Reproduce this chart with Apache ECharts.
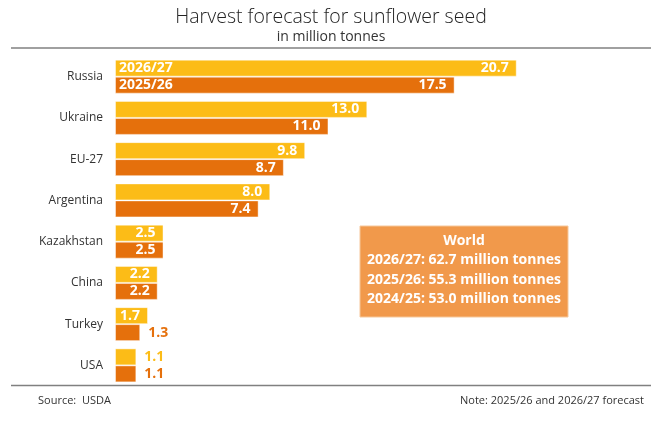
<!DOCTYPE html>
<html>
<head>
<meta charset="utf-8">
<script src="https://cdn.jsdelivr.net/npm/echarts@6/dist/echarts.min.js"></script>
<style>
  html, body { margin: 0; padding: 0; background: #fff; }
  #chart { width: 662px; height: 423px; }
</style>
</head>
<body>
<div id="chart"></div>
<script>
const countries = ['Russia', 'Ukraine', 'EU-27', 'Argentina', 'Kazakhstan', 'China', 'Turkey', 'USA'];
const seasonNames = ['2026/27', '2025/26'];
const values2627 = [20.7, 13.0, 9.8, 8.0, 2.5, 2.2, 1.7, 1.1];
const values2526 = [17.5, 11.0, 8.7, 7.4, 2.5, 2.2, 1.3, 1.1];
const worldLines = ['2026/27: 62.7 million tonnes', '2025/26: 55.3 million tonnes', '2024/25: 53.0 million tonnes'];

const colors = ['#FCBC17', '#E5700C'];
const font = '"Open Sans", "Noto Sans", sans-serif';

const chart = echarts.init(document.getElementById('chart'));

// small bars get their label outside, in the bar colour
function buildData(values, color) {
  return values.map(v => {
    if (v >= 1.5) return v;
    return { value: v, label: { position: 'right', color: color, distance: 8 } };
  });
}

function buildSeries(name, values, color) {
  return {
    name: name,
    type: 'bar',
    barWidth: 17,
    barGap: '0%',
    data: buildData(values, color),
    itemStyle: { color: color, borderColor: 'rgba(255,255,255,0.45)', borderWidth: 1 },
    label: {
      show: true,
      position: 'insideRight',
      distance: 8,
      color: '#fff',
      fontFamily: font,
      fontWeight: 'bold',
      fontSize: 14,
      formatter: p => p.value.toFixed(1)
    },
    markPoint: {
      symbol: 'rect',
      symbolSize: 0,
      data: [{ coord: [0, countries[0]] }],
      label: {
        show: true,
        position: 'right',
        distance: 4,
        color: '#fff',
        fontFamily: font,
        fontWeight: 'bold',
        fontSize: 14,
        formatter: name
      }
    }
  };
}

chart.setOption({
  animation: false,
  title: [
    {
      text: 'Harvest forecast for sunflower seed',
      left: 'center',
      top: 2,
      textStyle: { fontFamily: font, fontWeight: 300, fontSize: 19.5, color: '#222' }
    },
    {
      text: 'in million tonnes',
      left: 'center',
      top: 25,
      textStyle: { fontFamily: font, fontWeight: 'normal', fontSize: 14, color: '#333' }
    }
  ],
  grid: { left: 115, right: 23, top: 56, bottom: 37 },
  xAxis: {
    type: 'value',
    min: 0,
    max: 27,
    show: false
  },
  yAxis: {
    type: 'category',
    data: countries,
    inverse: true,
    axisLine: { show: false },
    axisTick: { show: false },
    axisLabel: { margin: 12, color: '#333', fontFamily: font, fontSize: 12 }
  },
  series: [
    buildSeries(seasonNames[0], values2627, colors[0]),
    buildSeries(seasonNames[1], values2526, colors[1])
  ],
  graphic: [
    { type: 'line', shape: { x1: 11, y1: 48, x2: 651, y2: 48 }, style: { stroke: '#808080', lineWidth: 1.5 } },
    { type: 'line', shape: { x1: 11, y1: 385.5, x2: 651, y2: 385.5 }, style: { stroke: '#808080', lineWidth: 1.5 } },
    {
      type: 'rect',
      shape: { x: 360, y: 226, width: 208, height: 91 },
      style: { fill: '#F1994B', stroke: '#F6C79A', lineWidth: 1 }
    },
    {
      type: 'text',
      x: 464, y: 241,
      style: { text: 'World', fill: '#fff', font: 'bold 14px ' + font, textAlign: 'center', textVerticalAlign: 'middle' }
    },
    ...worldLines.map((t, i) => ({
      type: 'text',
      x: 464, y: 260.5 + i * 19.5,
      style: { text: t, fill: '#fff', font: 'bold 14px ' + font, textAlign: 'center', textVerticalAlign: 'middle' }
    })),
    {
      type: 'text',
      x: 38, y: 401,
      style: { text: 'Source:  USDA', fill: '#333', font: '11px ' + font, textVerticalAlign: 'middle' }
    },
    {
      type: 'text',
      x: 644, y: 401,
      style: { text: 'Note: 2025/26 and 2026/27 forecast', fill: '#333', font: '11px ' + font, textAlign: 'right', textVerticalAlign: 'middle' }
    }
  ]
});
</script>
</body>
</html>
